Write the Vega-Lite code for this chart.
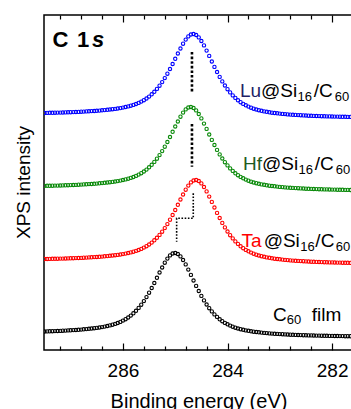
{
  "$schema": "https://vega.github.io/schema/vega-lite/v6.json",
  "width": 309,
  "height": 335,
  "autosize": {"type": "none"},
  "padding": {"left": 44, "top": 15, "right": 0, "bottom": 59},
  "background": "white",
  "config": {"view": {"stroke": "black", "strokeWidth": 1.5}, "font": "Liberation Sans", "axis": {"grid": false}},
  "datasets": {
    "spec": [
      {"e":287.50,"Lu":237.0,"Hf":164.1,"Ta":91.0,"C":18.5},
      {"e":287.45,"Lu":237.1,"Hf":164.2,"Ta":91.0,"C":18.6},
      {"e":287.40,"Lu":237.2,"Hf":164.2,"Ta":91.1,"C":18.7},
      {"e":287.35,"Lu":237.2,"Hf":164.3,"Ta":91.2,"C":18.8},
      {"e":287.30,"Lu":237.3,"Hf":164.4,"Ta":91.2,"C":18.9},
      {"e":287.25,"Lu":237.4,"Hf":164.4,"Ta":91.3,"C":19.0},
      {"e":287.20,"Lu":237.4,"Hf":164.5,"Ta":91.4,"C":19.1},
      {"e":287.15,"Lu":237.5,"Hf":164.6,"Ta":91.4,"C":19.3},
      {"e":287.10,"Lu":237.6,"Hf":164.7,"Ta":91.5,"C":19.4},
      {"e":287.05,"Lu":237.7,"Hf":164.8,"Ta":91.6,"C":19.6},
      {"e":287.00,"Lu":237.8,"Hf":164.9,"Ta":91.7,"C":19.7},
      {"e":286.95,"Lu":237.9,"Hf":165.0,"Ta":91.8,"C":19.9},
      {"e":286.90,"Lu":238.0,"Hf":165.1,"Ta":91.9,"C":20.0},
      {"e":286.85,"Lu":238.1,"Hf":165.3,"Ta":92.0,"C":20.2},
      {"e":286.80,"Lu":238.3,"Hf":165.4,"Ta":92.1,"C":20.4},
      {"e":286.75,"Lu":238.4,"Hf":165.6,"Ta":92.3,"C":20.7},
      {"e":286.70,"Lu":238.6,"Hf":165.7,"Ta":92.4,"C":20.9},
      {"e":286.65,"Lu":238.7,"Hf":165.9,"Ta":92.6,"C":21.2},
      {"e":286.60,"Lu":238.9,"Hf":166.0,"Ta":92.7,"C":21.5},
      {"e":286.55,"Lu":239.0,"Hf":166.2,"Ta":92.9,"C":21.8},
      {"e":286.50,"Lu":239.2,"Hf":166.4,"Ta":93.0,"C":22.1},
      {"e":286.45,"Lu":239.4,"Hf":166.7,"Ta":93.2,"C":22.5},
      {"e":286.40,"Lu":239.7,"Hf":166.9,"Ta":93.4,"C":22.9},
      {"e":286.35,"Lu":239.9,"Hf":167.2,"Ta":93.7,"C":23.4},
      {"e":286.30,"Lu":240.2,"Hf":167.5,"Ta":93.9,"C":24.0},
      {"e":286.25,"Lu":240.5,"Hf":167.8,"Ta":94.2,"C":24.6},
      {"e":286.20,"Lu":240.8,"Hf":168.1,"Ta":94.5,"C":25.3},
      {"e":286.15,"Lu":241.1,"Hf":168.5,"Ta":94.8,"C":26.1},
      {"e":286.10,"Lu":241.5,"Hf":168.9,"Ta":95.1,"C":27.0},
      {"e":286.05,"Lu":241.9,"Hf":169.4,"Ta":95.5,"C":28.1},
      {"e":286.00,"Lu":242.4,"Hf":170.0,"Ta":95.9,"C":29.4},
      {"e":285.95,"Lu":243.0,"Hf":170.6,"Ta":96.4,"C":30.8},
      {"e":285.90,"Lu":243.6,"Hf":171.3,"Ta":97.0,"C":32.5},
      {"e":285.85,"Lu":244.3,"Hf":172.1,"Ta":97.6,"C":34.4},
      {"e":285.80,"Lu":245.1,"Hf":173.0,"Ta":98.3,"C":36.7},
      {"e":285.75,"Lu":246.0,"Hf":174.1,"Ta":99.1,"C":39.2},
      {"e":285.70,"Lu":247.1,"Hf":175.4,"Ta":100.0,"C":42.1},
      {"e":285.65,"Lu":248.4,"Hf":176.8,"Ta":101.1,"C":45.3},
      {"e":285.60,"Lu":249.8,"Hf":178.5,"Ta":102.4,"C":48.9},
      {"e":285.55,"Lu":251.5,"Hf":180.4,"Ta":103.8,"C":52.9},
      {"e":285.50,"Lu":253.4,"Hf":182.7,"Ta":105.5,"C":57.3},
      {"e":285.45,"Lu":255.7,"Hf":185.2,"Ta":107.4,"C":62.0},
      {"e":285.40,"Lu":258.2,"Hf":188.1,"Ta":109.7,"C":67.0},
      {"e":285.35,"Lu":261.1,"Hf":191.3,"Ta":112.2,"C":72.2},
      {"e":285.30,"Lu":264.3,"Hf":194.9,"Ta":115.1,"C":77.5},
      {"e":285.25,"Lu":267.9,"Hf":198.9,"Ta":118.3,"C":82.5},
      {"e":285.20,"Lu":271.9,"Hf":203.3,"Ta":121.9,"C":87.3},
      {"e":285.15,"Lu":276.3,"Hf":208.0,"Ta":125.9,"C":91.4},
      {"e":285.10,"Lu":281.0,"Hf":213.0,"Ta":130.3,"C":94.6},
      {"e":285.05,"Lu":286.0,"Hf":218.2,"Ta":135.0,"C":96.5},
      {"e":285.00,"Lu":291.2,"Hf":223.5,"Ta":140.0,"C":97.0},
      {"e":284.95,"Lu":296.5,"Hf":228.5,"Ta":145.2,"C":96.0},
      {"e":284.90,"Lu":301.5,"Hf":233.3,"Ta":150.5,"C":93.6},
      {"e":284.85,"Lu":306.3,"Hf":237.4,"Ta":155.5,"C":90.0},
      {"e":284.80,"Lu":310.4,"Hf":240.6,"Ta":160.3,"C":85.6},
      {"e":284.75,"Lu":313.6,"Hf":242.5,"Ta":164.4,"C":80.4},
      {"e":284.70,"Lu":315.5,"Hf":243.0,"Ta":167.6,"C":75.1},
      {"e":284.65,"Lu":316.0,"Hf":242.0,"Ta":169.5,"C":69.5},
      {"e":284.60,"Lu":315.0,"Hf":239.6,"Ta":170.0,"C":64.1},
      {"e":284.55,"Lu":312.6,"Hf":236.0,"Ta":169.0,"C":59.0},
      {"e":284.50,"Lu":309.0,"Hf":231.6,"Ta":166.6,"C":54.1},
      {"e":284.45,"Lu":304.6,"Hf":226.4,"Ta":163.0,"C":49.6},
      {"e":284.40,"Lu":299.4,"Hf":221.1,"Ta":158.6,"C":45.5},
      {"e":284.35,"Lu":294.1,"Hf":215.5,"Ta":153.4,"C":41.8},
      {"e":284.30,"Lu":288.5,"Hf":210.1,"Ta":148.1,"C":38.6},
      {"e":284.25,"Lu":283.1,"Hf":205.0,"Ta":142.5,"C":35.6},
      {"e":284.20,"Lu":278.0,"Hf":200.1,"Ta":137.1,"C":33.1},
      {"e":284.15,"Lu":273.1,"Hf":195.6,"Ta":132.0,"C":30.7},
      {"e":284.10,"Lu":268.6,"Hf":191.5,"Ta":127.1,"C":28.8},
      {"e":284.05,"Lu":264.5,"Hf":187.8,"Ta":122.6,"C":27.1},
      {"e":284.00,"Lu":260.8,"Hf":184.6,"Ta":118.5,"C":25.7},
      {"e":283.95,"Lu":257.6,"Hf":181.6,"Ta":114.8,"C":24.4},
      {"e":283.90,"Lu":254.6,"Hf":179.1,"Ta":111.6,"C":23.3},
      {"e":283.85,"Lu":252.1,"Hf":176.7,"Ta":108.6,"C":22.3},
      {"e":283.80,"Lu":249.7,"Hf":174.8,"Ta":106.1,"C":21.5},
      {"e":283.75,"Lu":247.8,"Hf":173.1,"Ta":103.7,"C":20.8},
      {"e":283.70,"Lu":246.1,"Hf":171.7,"Ta":101.8,"C":20.2},
      {"e":283.65,"Lu":244.7,"Hf":170.4,"Ta":100.1,"C":19.6},
      {"e":283.60,"Lu":243.4,"Hf":169.3,"Ta":98.7,"C":19.2},
      {"e":283.55,"Lu":242.3,"Hf":168.3,"Ta":97.4,"C":18.7},
      {"e":283.50,"Lu":241.3,"Hf":167.5,"Ta":96.3,"C":18.3},
      {"e":283.45,"Lu":240.5,"Hf":166.8,"Ta":95.3,"C":18.0},
      {"e":283.40,"Lu":239.8,"Hf":166.2,"Ta":94.5,"C":17.7},
      {"e":283.35,"Lu":239.2,"Hf":165.6,"Ta":93.8,"C":17.4},
      {"e":283.30,"Lu":238.6,"Hf":165.2,"Ta":93.2,"C":17.1},
      {"e":283.25,"Lu":238.2,"Hf":164.7,"Ta":92.6,"C":16.9},
      {"e":283.20,"Lu":237.7,"Hf":164.3,"Ta":92.2,"C":16.6},
      {"e":283.15,"Lu":237.3,"Hf":164.0,"Ta":91.7,"C":16.4},
      {"e":283.10,"Lu":237.0,"Hf":163.7,"Ta":91.3,"C":16.2},
      {"e":283.05,"Lu":236.7,"Hf":163.4,"Ta":91.0,"C":16.1},
      {"e":283.00,"Lu":236.4,"Hf":163.1,"Ta":90.7,"C":15.9},
      {"e":282.95,"Lu":236.1,"Hf":162.9,"Ta":90.4,"C":15.8},
      {"e":282.90,"Lu":235.9,"Hf":162.6,"Ta":90.1,"C":15.6},
      {"e":282.85,"Lu":235.6,"Hf":162.4,"Ta":89.9,"C":15.5},
      {"e":282.80,"Lu":235.4,"Hf":162.2,"Ta":89.6,"C":15.3},
      {"e":282.75,"Lu":235.2,"Hf":162.1,"Ta":89.4,"C":15.2},
      {"e":282.70,"Lu":235.1,"Hf":161.9,"Ta":89.2,"C":15.1},
      {"e":282.65,"Lu":234.9,"Hf":161.8,"Ta":89.1,"C":15.0},
      {"e":282.60,"Lu":234.8,"Hf":161.6,"Ta":88.9,"C":14.9},
      {"e":282.55,"Lu":234.6,"Hf":161.5,"Ta":88.8,"C":14.8},
      {"e":282.50,"Lu":234.5,"Hf":161.3,"Ta":88.6,"C":14.7},
      {"e":282.45,"Lu":234.3,"Hf":161.2,"Ta":88.5,"C":14.6},
      {"e":282.40,"Lu":234.2,"Hf":161.1,"Ta":88.3,"C":14.6},
      {"e":282.35,"Lu":234.1,"Hf":161.0,"Ta":88.2,"C":14.5},
      {"e":282.30,"Lu":234.0,"Hf":160.9,"Ta":88.1,"C":14.4},
      {"e":282.25,"Lu":233.9,"Hf":160.8,"Ta":88.0,"C":14.4},
      {"e":282.20,"Lu":233.8,"Hf":160.7,"Ta":87.9,"C":14.3},
      {"e":282.15,"Lu":233.7,"Hf":160.6,"Ta":87.8,"C":14.2},
      {"e":282.10,"Lu":233.6,"Hf":160.6,"Ta":87.7,"C":14.2},
      {"e":282.05,"Lu":233.6,"Hf":160.5,"Ta":87.6,"C":14.1},
      {"e":282.00,"Lu":233.5,"Hf":160.4,"Ta":87.6,"C":14.1},
      {"e":281.95,"Lu":233.4,"Hf":160.4,"Ta":87.5,"C":14.0},
      {"e":281.90,"Lu":233.4,"Hf":160.3,"Ta":87.4,"C":14.0},
      {"e":281.85,"Lu":233.3,"Hf":160.2,"Ta":87.4,"C":13.9},
      {"e":281.80,"Lu":233.2,"Hf":160.2,"Ta":87.3,"C":13.9},
      {"e":281.75,"Lu":233.2,"Hf":160.1,"Ta":87.2,"C":13.8},
      {"e":281.70,"Lu":233.1,"Hf":160.1,"Ta":87.2,"C":13.8},
      {"e":281.65,"Lu":233.1,"Hf":160.0,"Ta":87.1,"C":13.8},
      {"e":281.60,"Lu":233.0,"Hf":160.0,"Ta":87.1,"C":13.7}
    ],
    "dots": [
      {"g":"Lu","o":1,"e":284.68,"i":298},
      {"g":"Lu","o":2,"e":284.68,"i":257},
      {"g":"Hf","o":1,"e":284.68,"i":226},
      {"g":"Hf","o":2,"e":284.68,"i":183.3},
      {"g":"Ta","o":1,"e":284.655,"i":156.7},
      {"g":"Ta","o":2,"e":284.655,"i":131.7},
      {"g":"Ta","o":3,"e":284.973,"i":131.7},
      {"g":"Ta","o":4,"e":284.973,"i":108.3}
    ],
    "labels": [
      {"c":"k","t":"@Si","e":283.359,"i":253},
      {"c":"k","t":"/C","e":282.35,"i":253},
      {"c":"k","t":"@Si","e":283.342,"i":180},
      {"c":"k","t":"/C","e":282.33,"i":180},
      {"c":"k","t":"@Si","e":283.309,"i":103},
      {"c":"k","t":"/C","e":282.32,"i":103},
      {"c":"k","t":"C","e":283.131,"i":29.3},
      {"c":"k","t":"film","e":282.39,"i":29.3},
      {"c":"Lu","t":"Lu","e":283.762,"i":253},
      {"c":"Hf","t":"Hf","e":283.705,"i":180},
      {"c":"Ta","t":"Ta","e":283.734,"i":103},
      {"c":"sub","t":"16","e":282.66,"i":249},
      {"c":"sub","t":"60","e":281.95,"i":249},
      {"c":"sub","t":"16","e":282.64,"i":176},
      {"c":"sub","t":"60","e":281.93,"i":176},
      {"c":"sub","t":"16","e":282.61,"i":99},
      {"c":"sub","t":"60","e":281.93,"i":99},
      {"c":"sub","t":"60","e":282.869,"i":26},
      {"c":"b","t":"C","e":287.3475,"i":302.7},
      {"c":"b","t":"1","e":286.879,"i":302.7},
      {"c":"bi","t":"s","e":286.592,"i":302.7},
      {"c":"yt","t":"XPS intensity","e":287.9,"i":167.5}
    ]
  },
  "resolve": {"axis": {"x": "independent"}},
  "layer": [
    {
      "data": {"name": "spec"},
      "transform": [{"fold": ["Lu", "Hf", "Ta", "C"], "as": ["s", "v"]}],
      "mark": {"type": "point", "shape": "circle", "filled": false, "size": 11, "strokeWidth": 1.1, "opacity": 1, "clip": true},
      "encoding": {
        "x": {"field": "e", "type": "quantitative",
          "scale": {"domain": [281.6, 287.51], "reverse": true, "nice": false, "zero": false},
          "axis": {"orient": "bottom", "offset": -7, "values": [286, 284, 282], "tickSize": 7, "tickColor": "black", "tickWidth": 1.2,
            "domain": false, "labelFontSize": 19, "labelColor": "black", "labelPadding": 11,
            "labelFont": "Liberation Sans", "title": "Binding energy (eV)", "titleFontSize": 20, "titleFontWeight": "normal",
            "titleColor": "black", "titlePadding": 11, "titleFont": "Liberation Sans"}},
        "y": {"field": "v", "type": "quantitative",
          "scale": {"domain": [0, 335], "nice": false, "zero": false},
          "axis": null},
        "color": {"field": "s", "type": "nominal",
          "scale": {"domain": ["Lu", "Hf", "Ta", "C"], "range": ["#0000ff", "#0a8a0a", "#ff0000", "#000000"]},
          "legend": null}
      }
    },
    {
      "data": {"name": "dots"},
      "transform": [{"filter": "datum.g != 'Ta'"}],
      "mark": {"type": "line", "color": "black", "strokeWidth": 2.6, "strokeDash": [2.6, 2], "strokeCap": "butt"},
      "encoding": {
        "x": {"field": "e", "type": "quantitative",
          "scale": {"domain": [281.6, 287.51], "reverse": true, "nice": false, "zero": false},
          "axis": {"orient": "top", "offset": -7, "values": [286, 284, 282], "tickSize": 7, "tickColor": "black", "tickWidth": 1.2,
            "domain": false, "labels": false, "title": null}},
        "y": {"field": "i", "type": "quantitative", "scale": {"domain": [0, 335], "nice": false, "zero": false}, "axis": null},
        "detail": {"field": "g"},
        "order": {"field": "o"}
      }
    },
    {
      "data": {"name": "dots"},
      "transform": [{"filter": "datum.g == 'Ta'"}],
      "mark": {"type": "line", "color": "black", "strokeWidth": 1.6, "strokeDash": [1.6, 1.6], "strokeCap": "butt"},
      "encoding": {
        "x": {"field": "e", "type": "quantitative",
          "scale": {"domain": [281.6, 287.51], "reverse": true, "nice": false, "zero": false},
          "axis": {"orient": "bottom", "offset": -4, "values": [287.2, 286.8, 286.4, 285.6, 285.2, 284.8, 284.4, 283.6, 283.2, 282.8, 282.4],
            "tickSize": 4, "tickColor": "black", "tickWidth": 1.2, "domain": false, "labels": false, "title": null}},
        "y": {"field": "i", "type": "quantitative", "scale": {"domain": [0, 335], "nice": false, "zero": false}, "axis": null},
        "order": {"field": "o"}
      }
    },
    {
      "data": {"name": "labels"},
      "transform": [{"filter": "datum.c == 'k'"}],
      "mark": {"type": "text", "align": "left", "baseline": "alphabetic", "fontSize": 19, "font": "Liberation Sans", "color": "black"},
      "encoding": {
        "x": {"field": "e", "type": "quantitative",
          "scale": {"domain": [281.6, 287.51], "reverse": true, "nice": false, "zero": false},
          "axis": {"orient": "top", "offset": -4, "values": [287.2, 286.8, 286.4, 285.6, 285.2, 284.8, 284.4, 283.6, 283.2, 282.8, 282.4],
            "tickSize": 4, "tickColor": "black", "tickWidth": 1.2, "domain": false, "labels": false, "title": null}},
        "y": {"field": "i", "type": "quantitative", "scale": {"domain": [0, 335], "nice": false, "zero": false}, "axis": null},
        "text": {"field": "t"}
      }
    },
    {
      "data": {"name": "labels"},
      "transform": [{"filter": "datum.c == 'yt'"}],
      "mark": {"type": "text", "align": "center", "baseline": "middle", "angle": 270, "fontSize": 19, "font": "Liberation Sans", "color": "black"},
      "encoding": {
        "x": {"field": "e", "type": "quantitative", "scale": {"domain": [281.6, 287.51], "reverse": true, "nice": false, "zero": false}, "axis": null},
        "y": {"field": "i", "type": "quantitative", "scale": {"domain": [0, 335], "nice": false, "zero": false}, "axis": null},
        "text": {"field": "t"}
      }
    },
    {
      "data": {"name": "labels"},
      "transform": [{"filter": "datum.c == 'Lu'"}],
      "mark": {"type": "text", "align": "left", "baseline": "alphabetic", "fontSize": 19, "font": "Liberation Sans", "color": "#1f1f66"},
      "encoding": {
        "x": {"field": "e", "type": "quantitative", "scale": {"domain": [281.6, 287.51], "reverse": true, "nice": false, "zero": false}, "axis": null},
        "y": {"field": "i", "type": "quantitative", "scale": {"domain": [0, 335], "nice": false, "zero": false}, "axis": null},
        "text": {"field": "t"}
      }
    },
    {
      "data": {"name": "labels"},
      "transform": [{"filter": "datum.c == 'Hf'"}],
      "mark": {"type": "text", "align": "left", "baseline": "alphabetic", "fontSize": 19, "font": "Liberation Sans", "color": "#1e5a1e"},
      "encoding": {
        "x": {"field": "e", "type": "quantitative", "scale": {"domain": [281.6, 287.51], "reverse": true, "nice": false, "zero": false}, "axis": null},
        "y": {"field": "i", "type": "quantitative", "scale": {"domain": [0, 335], "nice": false, "zero": false}, "axis": null},
        "text": {"field": "t"}
      }
    },
    {
      "data": {"name": "labels"},
      "transform": [{"filter": "datum.c == 'Ta'"}],
      "mark": {"type": "text", "align": "left", "baseline": "alphabetic", "fontSize": 19, "font": "Liberation Sans", "color": "#ff0000"},
      "encoding": {
        "x": {"field": "e", "type": "quantitative", "scale": {"domain": [281.6, 287.51], "reverse": true, "nice": false, "zero": false}, "axis": null},
        "y": {"field": "i", "type": "quantitative", "scale": {"domain": [0, 335], "nice": false, "zero": false}, "axis": null},
        "text": {"field": "t"}
      }
    },
    {
      "data": {"name": "labels"},
      "transform": [{"filter": "datum.c == 'sub'"}],
      "mark": {"type": "text", "align": "left", "baseline": "alphabetic", "fontSize": 13, "font": "Liberation Sans", "color": "black"},
      "encoding": {
        "x": {"field": "e", "type": "quantitative", "scale": {"domain": [281.6, 287.51], "reverse": true, "nice": false, "zero": false}, "axis": null},
        "y": {"field": "i", "type": "quantitative", "scale": {"domain": [0, 335], "nice": false, "zero": false}, "axis": null},
        "text": {"field": "t"}
      }
    },
    {
      "data": {"name": "labels"},
      "transform": [{"filter": "datum.c == 'b'"}],
      "mark": {"type": "text", "align": "left", "baseline": "alphabetic", "fontSize": 22, "fontWeight": "bold", "font": "Liberation Sans", "color": "black"},
      "encoding": {
        "x": {"field": "e", "type": "quantitative", "scale": {"domain": [281.6, 287.51], "reverse": true, "nice": false, "zero": false}, "axis": null},
        "y": {"field": "i", "type": "quantitative", "scale": {"domain": [0, 335], "nice": false, "zero": false}, "axis": null},
        "text": {"field": "t"}
      }
    },
    {
      "data": {"name": "labels"},
      "transform": [{"filter": "datum.c == 'bi'"}],
      "mark": {"type": "text", "align": "left", "baseline": "alphabetic", "fontSize": 22, "fontWeight": "bold", "fontStyle": "italic", "font": "Liberation Sans", "color": "black"},
      "encoding": {
        "x": {"field": "e", "type": "quantitative", "scale": {"domain": [281.6, 287.51], "reverse": true, "nice": false, "zero": false}, "axis": null},
        "y": {"field": "i", "type": "quantitative", "scale": {"domain": [0, 335], "nice": false, "zero": false}, "axis": null},
        "text": {"field": "t"}
      }
    }
  ]
}
